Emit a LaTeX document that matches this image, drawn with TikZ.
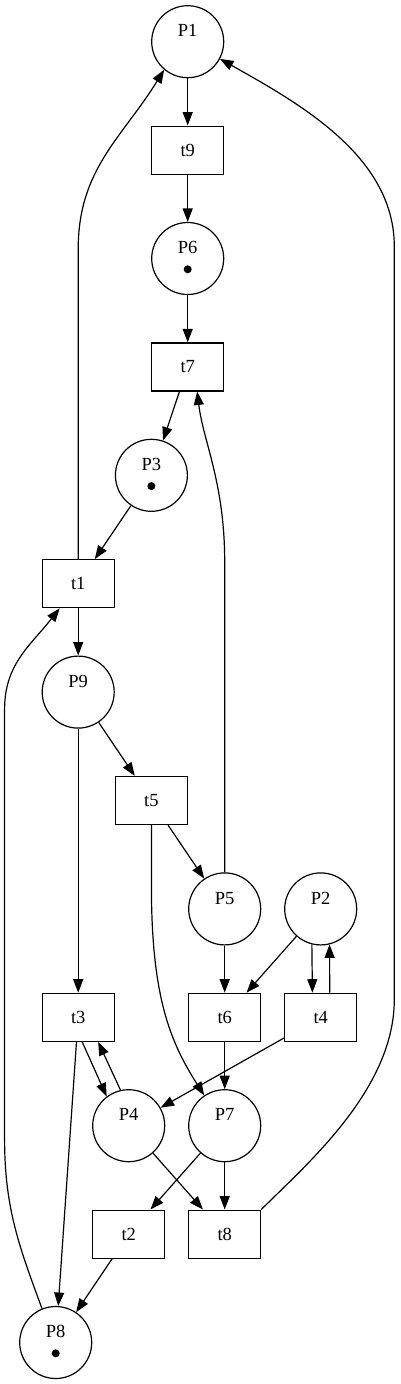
\documentclass[tikz,border=0pt]{standalone}
\usepackage{fontspec}
\setmainfont{Liberation Serif}
\usepackage{tikz}
\usetikzlibrary{arrows.meta}
\tikzstyle{place} = [circle, draw=black, line width=1.2pt, minimum size=72pt, inner sep=0pt, text height=12.2pt, text depth=22pt]
\tikzstyle{trans} = [rectangle, draw=black, line width=1.2pt, minimum width=72pt, minimum height=48pt, inner sep=0pt, text centered]
\tikzstyle{token} = [fill=black]
\tikzstyle{arrow} = [line width=1.2pt,-{Triangle[length=13.5pt,width=10pt]}]

\begin{document}
\begin{tikzpicture}[node distance=108.4pt, font=\fontsize{18.5pt}{22pt}\selectfont]
\useasboundingbox (0pt,0pt) rectangle (400pt,-1384pt);
\node (P1) [place] at (187.7pt,-41.7pt) {P1};
\node (t9) [trans, below of=P1] {t9};
\node (P6) [place, below of=t9] {P6};
\node (t7) [trans, below of=P6] {t7};
\node (P3) [place, below of=t7, xshift=-36.3pt] {P3};
\node (t1) [trans, below of=P3, xshift=-73.2pt] {t1};
\node (P9) [place, below of=t1] {P9};
\node (t5) [trans, below of=P9, xshift=73.2pt] {t5};
\node (P5) [place, below of=t5, xshift=73.3pt] {P5};
\node (P2) [place, below of=t5, xshift=169.3pt] {P2};
\node (t3) [trans, below of=P5, xshift=-146.5pt] {t3};
\node (t6) [trans, below of=P5] {t6};
\node (t4) [trans, below of=P2] {t4};
\node (P4) [place, below of=t3, xshift=50.5pt] {P4};
\node (P7) [place, below of=t6] {P7};
\node (t2) [trans, below of=P4] {t2};
\node (t8) [trans, below of=P7] {t8};
\node (P8) [place, below of=t2, xshift=-73pt] {P8};

% tokens
\fill [token] (P6) ++(0,-10.8pt) circle (4pt);
\fill [token] (P3) ++(0,-10.8pt) circle (4pt);
\fill [token] (P8) ++(0,-10.8pt) circle (4pt);

\draw [arrow] (P1) -- (t9);
\draw [arrow] (t9) -- (P6);
\draw [arrow] (P6) -- (t7);
\draw [arrow] (t7) -- (P3);
\draw [arrow] (P3) -- (t1);
\draw [arrow] (t1) -- (P9);
\draw [arrow] (P9) -- (t5);
\draw [arrow] (P9) -- (t3);
\draw [arrow] (t5) -- (P5);
\draw [arrow] (P5) -- (t6);
\draw [arrow] (P2) -- (t6);
\draw [arrow] (P2.256.7) -- ([xshift=-8.3pt]t4.north);
\draw [arrow] ([xshift=9pt]t4.north) -- (P2.284.5);
\draw [arrow] ([xshift=4pt]t3.south) -- (P4.127);
\draw [arrow] (P4.103) -- ([xshift=20pt]t3.south);
\draw [arrow] (t3) -- (P8);
\draw [arrow] (t4) -- (P4);
\draw [arrow] (t6) -- (P7);
\draw [arrow] (P4) -- (t8);
\draw [arrow] (P7) -- (t2);
\draw [arrow] (P7) -- (t8);
\draw [arrow] (t2) -- (P8);
% long arcs
\draw [arrow] (t1.north) -- ++(0,310pt) .. controls +(0,80pt) and +(-42pt,-68pt) .. (P1.230);
\draw [arrow] (t8.north east) .. controls +(45pt,45pt) and +(0,-90pt) .. ++(133pt,210pt) -- ++(0,753pt) .. controls +(0,90pt) and +(80pt,-45pt) .. (P1.332);
\draw [arrow] (P8.112) .. controls +(-22pt,60pt) and +(0,-70pt) .. ++(-37.4pt,169.2pt) -- ++(0,430pt) .. controls +(0,45pt) and +(-30pt,-38pt) .. ([xshift=-18.5pt]t1.south);
\draw [arrow] (t5.south) -- ++(0,-60pt) .. controls +(0,-110pt) and +(-35pt,55pt) .. (P7.124);
\draw [arrow] (P5.north) -- ++(0,310pt) .. controls +(0,80pt) and +(6pt,-50pt) .. ([xshift=9.5pt]t7.south);
\end{tikzpicture}
\end{document}
